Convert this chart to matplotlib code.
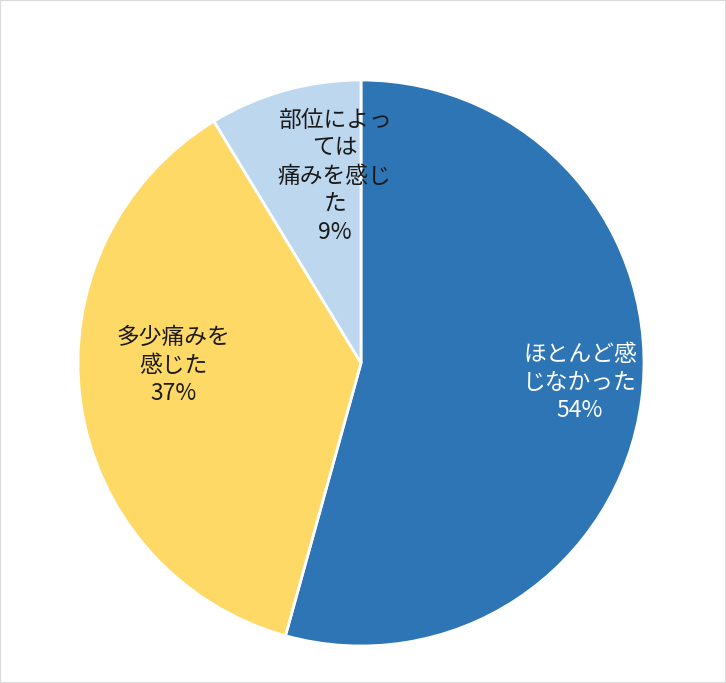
import matplotlib.pyplot as plt
from matplotlib.patches import Rectangle
import numpy as np

plt.rcParams['font.family'] = ['Noto Sans CJK JP', 'DejaVu Sans']

# Survey answers (share in %), clockwise from the top
labels = ['ほとんど感\nじなかった', '多少痛みを\n感じた', '部位によっ\nては\n痛みを感じ\nた']
values = [54.3, 37.0, 8.7]
colors = ['#2E75B6', '#FFD966', '#BDD7EE']
text_colors = ['white', '#1a1a1a', '#1a1a1a']

# label spots inside each wedge (radius, angle in degrees)
label_pos = [(0.777, -5.2), (0.664, 180.9), (0.667, 98.0)]

fig = plt.figure(figsize=(7.26, 6.83), dpi=100)
fig.patches.append(Rectangle((0, 0), 1, 1, transform=fig.transFigure,
                             fill=False, edgecolor='#D9D9D9', linewidth=1.5))

ax = fig.add_axes([78 / 726, 37 / 683, 566 / 726, 566 / 683])
ax.pie(values, colors=colors, startangle=90, counterclock=False,
       radius=1.0, wedgeprops=dict(edgecolor='white', linewidth=2))

for lab, v, tc, (r, a) in zip(labels, values, text_colors, label_pos):
    x = r * np.cos(np.radians(a))
    y = r * np.sin(np.radians(a))
    ax.text(x, y, f'{lab}\n{v:.0f}%', ha='center', va='center',
            fontsize=16.4, color=tc, linespacing=1.28)

ax.set_xlim(-1, 1)
ax.set_ylim(-1, 1)
ax.set_aspect('equal')
ax.axis('off')

fig.savefig('out.png', dpi=100)
